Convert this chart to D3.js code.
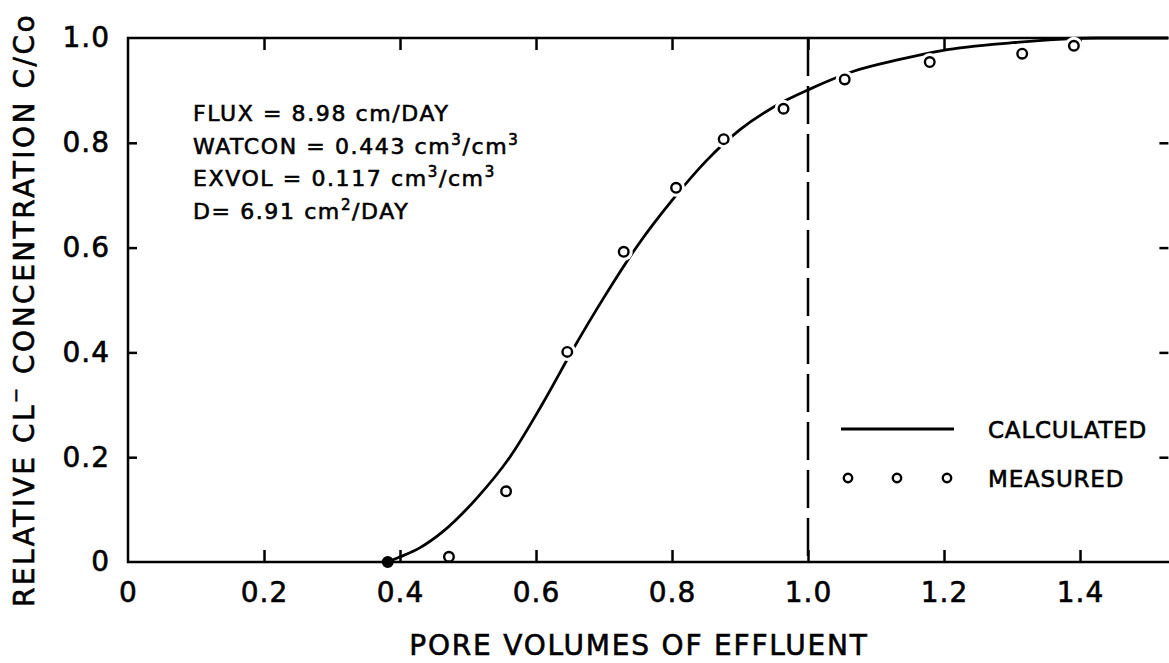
<!DOCTYPE html>
<html>
<head>
<meta charset="utf-8">
<style>
  body { margin: 0; background: #fff; }
  svg text { font-family: "DejaVu Sans", sans-serif; fill: #000; stroke: #000; stroke-width: 0.6px; }
  .tick line { stroke: #000; stroke-width: 2.5; }
  .tick text { font-size: 28px; letter-spacing: 1px; }
</style>
</head>
<body>
<svg width="1169" height="663"></svg>
<script src="https://d3js.org/d3.v7.min.js"></script>
<script>

// measured points (pore volumes, C/Co)
var measX = [0.382, 0.472, 0.556, 0.646, 0.729, 0.806, 0.876, 0.964, 1.054, 1.179, 1.315, 1.391];
var measY = [0.0, 0.01, 0.135, 0.401, 0.592, 0.714, 0.807, 0.865, 0.921, 0.954, 0.970, 0.985];

// calculated curve
var calcX = [0.382, 0.397, 0.429, 0.463, 0.513, 0.562, 0.610, 0.654, 0.700, 0.750, 0.800, 0.850, 0.900, 0.969, 1.000, 1.066, 1.135, 1.197, 1.301, 1.375, 1.425, 1.53];
var calcY = [0.0, 0.008, 0.027, 0.058, 0.122, 0.201, 0.303, 0.405, 0.505, 0.605, 0.690, 0.765, 0.825, 0.882, 0.901, 0.936, 0.959, 0.976, 0.991, 0.998, 1.0, 1.0];

var xTicks = [0, 0.2, 0.4, 0.6, 0.8, 1.0, 1.2, 1.4];
var xTickLabels = ["0", "0.2", "0.4", "0.6", "0.8", "1.0", "1.2", "1.4"];
var yTicks = [0, 0.2, 0.4, 0.6, 0.8, 1.0];
var yTickLabels = ["0", "0.2", "0.4", "0.6", "0.8", "1.0"];

var svg = d3.select("svg");

var x = d3.scaleLinear().domain([0, 1.53]).range([128, 1168.4]);
var y = d3.scaleLinear().domain([0, 1]).range([562, 38]);

// frame
svg.append("path")
    .attr("d", "M" + x(1.53) + "," + y(1) + "H" + x(0) + "V" + y(0) + "H" + 1169)
    .attr("fill", "none").attr("stroke", "#000").attr("stroke-width", 2.5);

// bottom axis
var gx = svg.append("g").attr("transform", "translate(0," + y(0) + ")")
    .call(d3.axisBottom(x).tickValues(xTicks)
      .tickFormat(function(d, i) { return xTickLabels[i]; })
      .tickSize(-12).tickPadding(20));
gx.select(".domain").remove();
gx.selectAll(".tick").filter(function(d) { return d === 0; }).select("line").remove();

// top axis (ticks only)
var gt = svg.append("g").attr("transform", "translate(0," + y(1) + ")")
    .call(d3.axisTop(x).tickValues(xTicks.slice(1)).tickSize(-12).tickFormat(""));
gt.select(".domain").remove();

// left axis
var gy = svg.append("g").attr("transform", "translate(" + x(0) + ",0)")
    .call(d3.axisLeft(y).tickValues(yTicks)
      .tickFormat(function(d, i) { return yTickLabels[i]; })
      .tickSize(-9).tickPadding(18));
gy.select(".domain").remove();
gy.selectAll(".tick").filter(function(d) { return d === 0 || d === 1; }).select("line").remove();

// right axis (ticks only)
var gr = svg.append("g").attr("transform", "translate(" + x(1.53) + ",0)")
    .call(d3.axisRight(y).tickValues(yTicks.slice(1, 5)).tickSize(-9).tickFormat(""));
gr.select(".domain").remove();

// dashed line at 1 pore volume
svg.append("line")
    .attr("x1", x(1)).attr("x2", x(1))
    .attr("y1", y(1)).attr("y2", y(0))
    .attr("stroke", "#000").attr("stroke-width", 2.5)
    .attr("stroke-dasharray", "38,10");

// calculated curve
var calc = calcX.map(function(d, i) { return [d, calcY[i]]; });
svg.append("path")
    .datum(calc)
    .attr("fill", "none").attr("stroke", "#000").attr("stroke-width", 2.8)
    .attr("d", d3.line()
      .x(function(d) { return x(d[0]); })
      .y(function(d) { return y(d[1]); })
      .curve(d3.curveMonotoneX));

// measured points, with a white gap round them
var meas = measX.map(function(d, i) { return [d, measY[i]]; });
svg.selectAll(".halo")
    .data(meas.filter(function(d) { return d[1] > 0.02; }))
    .enter().append("circle")
      .attr("cx", function(d) { return x(d[0]); })
      .attr("cy", function(d) { return y(d[1]); })
      .attr("r", 9).attr("fill", "#fff");
svg.selectAll(".pt")
    .data(meas)
    .enter().append("circle")
      .attr("cx", function(d) { return x(d[0]); })
      .attr("cy", function(d) { return y(d[1]); })
      .attr("r", 4.8)
      .attr("fill", function(d) { return d[1] === 0 ? "#000" : "#fff"; })
      .attr("stroke", "#000").attr("stroke-width", 2.4);

// parameter block
var info = [
  ["FLUX = 8.98 cm/DAY"],
  ["WATCON = 0.443 cm", "3", "/cm", "3"],
  ["EXVOL = 0.117 cm", "3", "/cm", "3"],
  ["D= 6.91 cm", "2", "/DAY"]
];
info.forEach(function(parts, i) {
  var t = svg.append("text")
      .attr("x", 193).attr("y", 121 + i * 32.5)
      .style("font-size", "22px").style("letter-spacing", "1.6px");
  parts.forEach(function(p, j) {
    var sup = j % 2 === 1;
    var s = t.append("tspan").text(p);
    if (sup) s.style("font-size", "15px").attr("dy", -9);
    else if (j > 0) s.attr("dy", 9);
  });
});

// legend
svg.append("line")
    .attr("x1", 841).attr("x2", 954).attr("y1", 429).attr("y2", 429)
    .attr("stroke", "#000").attr("stroke-width", 3);
svg.append("text").attr("x", 988).attr("y", 438)
    .style("font-size", "23px").style("letter-spacing", "0.8px").text("CALCULATED");
svg.selectAll(".lg")
    .data([848, 897, 947])
    .enter().append("circle")
      .attr("cx", function(d) { return d; }).attr("cy", 478)
      .attr("r", 4.2).attr("fill", "#fff")
      .attr("stroke", "#000").attr("stroke-width", 2.4);
svg.append("text").attr("x", 988).attr("y", 487)
    .style("font-size", "23px").style("letter-spacing", "0.8px").text("MEASURED");

// axis titles
svg.append("text")
    .attr("x", 639).attr("y", 655)
    .attr("text-anchor", "middle")
    .style("font-size", "28px").style("letter-spacing", "1.8px")
    .text("PORE VOLUMES OF EFFLUENT");

var yt = svg.append("text")
    .attr("transform", "translate(34,310) rotate(-90)")
    .attr("text-anchor", "middle")
    .style("font-size", "28px").style("letter-spacing", "2.5px");
yt.append("tspan").text("RELATIVE CL");
yt.append("tspan").text("\u2212").style("font-size", "18px").attr("dy", -12);
yt.append("tspan").text(" CONCENTRATION C/Co").attr("dy", 12);

</script>
</body>
</html>
